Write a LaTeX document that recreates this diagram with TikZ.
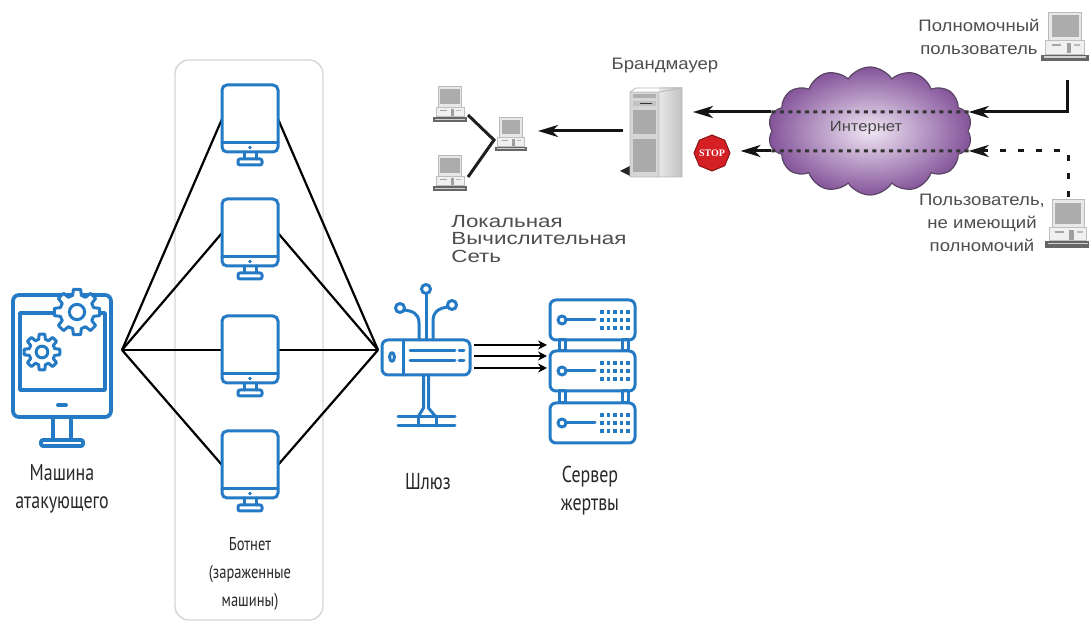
\documentclass[tikz,border=0pt]{standalone}
\usepackage{fontspec}
\setmainfont{Liberation Sans}
\newfontfamily\condf[FakeStretch=0.78]{PT Sans}
\newfontfamily\labf[FakeStretch=1.12]{Liberation Sans}
\newfontfamily\lanf[FakeStretch=1.27]{Liberation Sans}
\newfontfamily\stopf{Liberation Serif}
\usetikzlibrary{arrows.meta,shapes.geometric,shapes.symbols}

\definecolor{iconblue}{RGB}{36,122,196}
\definecolor{boxgrey}{RGB}{214,214,214}
\definecolor{txtdark}{RGB}{40,40,40}
\definecolor{labgrey}{RGB}{78,78,78}
\definecolor{cloudin}{RGB}{240,230,244}
\definecolor{cloudout}{RGB}{132,84,154}
\definecolor{cloudline}{RGB}{90,70,100}
\definecolor{stopred}{RGB}{212,32,36}

% gear outline with eight teeth: centre x, centre y, root radius, tip radius
\newcommand\cogwheel[4]{%
  \begin{scope}[shift={(#1,#2)}]
    \filldraw[icon, fill=white] (-15:#3)
      \foreach \a in {0,45,...,315}{
        -- (\a-15:#3) -- (\a-9:#4) -- (\a+9:#4) -- (\a+15:#3) -- (\a+22.5:#3) -- (\a+30:#3)}
      -- cycle;
    \draw[icon] (0,0) circle [radius=#3*0.45];
  \end{scope}}

\tikzset{
  icon/.style={draw=iconblue, line width=1.5pt, line join=round, line cap=round},
  hold/.style 2 args={inner sep=0pt, outer sep=0pt, minimum width=#1, minimum height=#2},
  link/.style={line width=1.1pt, black},
  feed/.style={line width=1.2pt, black, -{Stealth[length=4.5pt,width=4.5pt]}},
  flowline/.style={line width=1.5pt, black!92},
  flowhead/.style={-{Stealth[length=10pt,width=6pt,inset=3pt]}},
  dotrun/.style={line width=1.5pt, black!80, dash pattern=on 2pt off 2.2pt},
  dashrun/.style={line width=1.5pt, black!90, dash pattern=on 3pt off 6pt},
  leftlab/.style={font=\condf\fontsize{11.5}{14}\selectfont, text=txtdark, align=center},
  botlab/.style={font=\condf\fontsize{9.3}{14}\selectfont, text=txtdark, align=center},
  greylab/.style={font=\labf\fontsize{8.3}{11.4}\selectfont, text=labgrey, align=center},
  lanlab/.style={font=\lanf\fontsize{8.8}{8.6}\selectfont, text=labgrey, align=left, inner sep=0pt},
  % flat blue monitor of the botnet
  botpc/.pic={
    \draw[icon, rounded corners=2.5pt] (-28,-34) rectangle (28,33);
    \draw[icon] (-28,24) -- (28,24);
    \fill[iconblue] (0,28.5) circle [radius=1.8];
    \draw[icon] (-6,33) -- (-6,40) (6,33) -- (6,40);
    \draw[icon, rounded corners=1pt] (-12,40) rectangle (12,46);
  },
  % attacker workstation with gears
  attpc/.pic={
    \draw[icon, line width=1.9pt, rounded corners=3pt] (-49,-61) rectangle (49,61);
    \draw[icon, line width=1.7pt] (-42,-43) rectangle (43,34);
    \draw[icon, line width=1.9pt] (-4,49) -- (4,49);
    \draw[icon, line width=1.9pt] (-9,61) -- (-9,84) (9,61) -- (9,84);
    \draw[icon, line width=1.9pt, rounded corners=1pt] (-21,84) rectangle (21,90);
    \cogwheel{15}{-44}{17}{23}
    \cogwheel{-20}{-4}{13}{18}
  },
  % gateway / router
  gwicon/.pic={
    \draw[icon, rounded corners=3pt] (-44,-17) rectangle (44,18);
    \draw[icon] (-23,-17) -- (-23,18);
    \draw[icon] (-34,0) ellipse [x radius=2.4, y radius=4.4];
    \draw[icon] (-16,-6) -- (29,-6) (-16,4) -- (29,4);
    \draw[icon] (33,-6) -- (38,-6) (33,4) -- (38,4);
    \draw[icon] (0,-17) -- (0,-63);
    \draw[icon] (0,-68) circle [radius=4.5];
    \draw[icon] (-7,-17) -- (-7,-34) .. controls (-7,-44) and (-14,-46) .. (-22,-47);
    \draw[icon] (-26,-49) circle [radius=4.5];
    \draw[icon] (7,-17) -- (7,-36) .. controls (7,-46) and (14,-49) .. (22,-50);
    \draw[icon] (26,-52) circle [radius=4.5];
    \draw[icon] (-2.5,18) -- (-2.5,51) -- (-8,60) (2.5,18) -- (2.5,51) -- (10,60);
    \draw[icon] (-28,60) -- (29,60) (-28,69) -- (29,69);
    \draw[icon] (-8,60) -- (-8,69) (10,60) -- (10,69);
  },
  % one rack unit of the server
  srvunit/.pic={
    \draw[icon, rounded corners=3pt] (-42,-20) rectangle (43,20);
    \draw[icon] (-30,0) circle [radius=4];
    \draw[icon] (-26,0) -- (3,0);
    \foreach \c in {0,...,4}{
      \foreach \r in {-1,0,1}{
        \fill[iconblue] (10+\c*6.5-1.6, \r*8-1.6) rectangle ++(3.2,3.2);}}
  },
  % grey desktop computer
  oldpc/.pic={
    \filldraw[fill=gray!18, draw=gray!55, line width=0.4pt] (-11,-18) rectangle (11,1);
    \fill[gray!65] (-9,-16) rectangle (9,-1.5);
    \filldraw[fill=gray!12, draw=gray!50, line width=0.4pt] (-13,1) rectangle (13,10);
    \fill[gray!70] (-9,3.5) rectangle (-3,4.6);
    \fill[gray!75] (1,2.5) rectangle (4,9.5);
    \fill[gray!55] (6,3.5) rectangle (10,4.6);
    \fill[gray!80!black] (-16,10.5) rectangle (16,15);
    \fill[gray!35] (-14,11.6) rectangle (14,12.4);
  },
}

\begin{document}
\begin{tikzpicture}[x=0.5pt, y=-0.5pt]
  \useasboundingbox (0,0) rectangle (1089,625);
  \fill[white] (0,0) rectangle (1089,625);

  % ---------- botnet attack ----------
  \node[hold={74pt}{280pt}, draw=boxgrey, line width=0.7pt, rounded corners=7pt] (botnet) at (249,340) {};

  \node[hold={60pt}{60pt}] (att) at (62,350) {};
  \node[hold={28pt}{34pt}] (bot1) at (250,119) {};
  \node[hold={28pt}{34pt}] (bot2) at (250,233) {};
  \node[hold={28pt}{34pt}] (bot3) at (250,350) {};
  \node[hold={28pt}{34pt}] (bot4) at (250,465) {};
  \node[hold={48pt}{20pt}] (gw) at (426,350) {};
  \node[hold={45pt}{72pt}] (srv) at (592,371) {};

  \foreach \b in {bot1,bot2,bot3,bot4}{
    \draw[link] (att.east) -- (\b.west);
    \draw[link] (\b.east) -- (gw.west);
  }

  \pic at (62,356) {attpc};
  \foreach \b in {bot1,bot2,bot3,bot4}{ \pic at (\b.center) {botpc}; }
  \pic at (426,357) {gwicon};
  \pic at (592,320) {srvunit};
  \pic at (592,371) {srvunit};
  \pic at (592,423) {srvunit};
  \draw[icon] (559,340) rectangle (565,351) (622,340) rectangle (628,351);
  \draw[icon] (559,391) rectangle (565,403) (622,391) rectangle (628,403);

  \foreach \s in {2.5pt,-3pt,-9pt}{
    \draw[feed] ([yshift=\s]gw.east) -- ([yshift=\s]gw.east -| srv.west);
  }

  \node[leftlab] (attlab) at (62,489) {Машина\\атакующего};
  \node[leftlab] (gwlab) at (428,482) {Шлюз};
  \node[leftlab] (srvlab) at (590,491) {Сервер\\жертвы};
  \node[botlab] (botlab) at (250,574) {Ботнет\\(зараженные\\машины)};

  % ---------- firewall and internet ----------
  \node[hold={18pt}{18pt}] (lan1) at (450,106) {};
  \node[hold={18pt}{18pt}] (lan2) at (450,175) {};
  \node[hold={16pt}{18pt}] (lan3) at (511,136) {};
  \coordinate (hub) at (494,140);
  \draw[line width=1.5pt, black!88] ([yshift=-4.5pt]lan1.east) -- (hub) -- ([yshift=-1pt]lan2.east);
  \pic[scale=1.08] at (lan1.center) {oldpc};
  \pic[scale=1.08] at (lan2.center) {oldpc};
  \pic[scale=1.03] at (lan3.center) {oldpc};

  % firewall tower
  \node[hold={26pt}{45pt}] (fw) at (656,131) {};
  \fill[black!85] (620,171) -- (630,166) -- (630,176) -- cycle;
  \shade[left color=gray!18, right color=gray!48] (659,88) rectangle (682,177);
  \fill[gray!32] (630,92) rectangle (659,177);
  \draw[gray!55, line width=0.4pt] (630,92) -- (636,88) -- (682,88) -- (682,177) -- (630,177) -- cycle (659,92) -- (659,177) (630,92) -- (659,92) -- (682,88);
  \fill[gray!62] (633,94) rectangle (656,98);
  \fill[gray!48] (633,101) rectangle (656,106);
  \draw[black!80, line width=0.8pt] (640,103.5) -- (652,103.5);
  \fill[gray!66] (633,110) rectangle (656,134);
  \fill[gray!66] (633,139) rectangle (656,172);

  \node[regular polygon, regular polygon sides=8, shape border rotate=22.5, minimum size=18pt,
        inner sep=0pt, fill=stopred, draw=stopred!65!black, line width=0.5pt] (stop) at (712,153) {};
  \node[regular polygon, regular polygon sides=8, shape border rotate=22.5, minimum size=15.6pt,
        inner sep=0pt, draw=white, line width=0.5pt, text=white,
        font=\stopf\bfseries\fontsize{5}{5}\selectfont] (stoptxt) at (stop.center) {STOP};

  \node[cloud, cloud puffs=14, cloud puff arc=115, aspect=1.7, minimum width=102pt, minimum height=64pt,
        inner sep=0pt, draw=cloudline, line width=0.6pt, inner color=cloudin, outer color=cloudout] (net) at (870,131) {};
  \node[font=\labf\fontsize{7.4}{8}\selectfont, text=black!72] (netlab) at (866,128) {Интернет};

  \node[hold={24pt}{25pt}] (u1) at (1065,39) {};
  \node[hold={22pt}{25pt}] (u2) at (1068,226) {};
  \pic[scale=1.5] at (u1.center) {oldpc};
  \pic[scale=1.45] at (u2.center) {oldpc};

  % authorised traffic
  \draw[flowline, flowhead] ([xshift=1pt, yshift=-8pt]u1.south) |- ([yshift=9.5pt]net.east);
  \draw[dotrun] ([yshift=9.5pt]net.east) -- ([yshift=9.5pt]net.west);
  \draw[flowline, flowhead, shorten >=5.5pt] ([yshift=9.5pt]net.west) -- ([yshift=9.5pt]net.west -| fw.east);
  \draw[flowline, flowhead, shorten <=3.5pt, shorten >=5.5pt] (fw.west) -- (fw.west -| lan3.east);

  % unauthorised traffic
  \draw[dashrun, flowhead] ([yshift=2pt]u2.north) |- ([yshift=-10pt]net.east);
  \draw[dotrun] ([yshift=-10pt]net.east) -- ([yshift=-10pt]net.west);
  \draw[flowline, flowhead, shorten >=5pt] ([yshift=-10pt]net.west) -- ([yshift=-10pt]net.west -| stop.east);

  \node[greylab] (fwlab) at (665,66) {Брандмауер};
  \node[lanlab, anchor=west] (lanlab) at (451,239) {Локальная\\Вычислительная\\Сеть};
  \node[greylab] (u1lab) at (979,37) {Полномочный\\пользователь};
  \node[greylab] (u2lab) at (982,223) {Пользователь,\\не имеющий\\полномочий};
\end{tikzpicture}
\end{document}
